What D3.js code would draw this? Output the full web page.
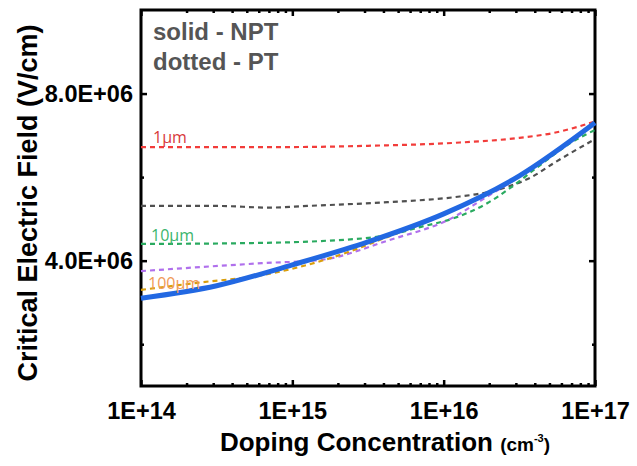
<!DOCTYPE html>
<html>
<head>
<meta charset="utf-8">
<script src="https://cdn.jsdelivr.net/npm/d3@7"></script>
<style>
  body { margin: 0; background: #fff; }
  svg { font-family: "Liberation Sans", Arial, sans-serif; }
</style>
</head>
<body>
<div id="chart"></div>
<script>
// log10 of doping concentration, and critical field (V/cm)
const nptLog = [14, 14.5, 15, 15.5, 16, 16.5, 17];
const nptField = [3.10e6, 3.40e6, 3.90e6, 4.45e6, 5.12e6, 6.03e6, 7.30e6];

const pt1Log = [14, 15, 15.5, 16.07, 16.5, 16.73, 17];
const pt1Field = [6.72e6, 6.72e6, 6.75e6, 6.82e6, 6.94e6, 7.06e6, 7.33e6];

const pt5Log = [14, 14.5, 14.85, 15.1, 15.63, 16.07, 16.29, 16.44, 16.58, 16.73, 17];
const pt5Field = [5.31e6, 5.31e6, 5.27e6, 5.31e6, 5.40e6, 5.52e6, 5.64e6, 5.79e6, 6.00e6, 6.34e6, 6.91e6];

const pt10Log = [14, 14.7, 15.19, 15.63, 15.85, 16.07, 16.29, 16.44, 16.62, 16.84, 17];
const pt10Field = [4.40e6, 4.42e6, 4.47e6, 4.61e6, 4.81e6, 5.02e6, 5.38e6, 5.74e6, 6.24e6, 6.82e6, 7.13e6];

const pt30Log = [14, 14.8, 15.19, 15.63, 16.07, 16.25, 16.5, 17];
const pt30Field = [3.75e6, 3.94e6, 4.02e6, 4.48e6, 5.05e6, 5.45e6, 6.01e6, 7.28e6];

const pt100Log = [14, 14.37, 14.81, 15.25, 15.63, 16, 16.5, 17];
const pt100Field = [3.30e6, 3.47e6, 3.66e6, 4.06e6, 4.57e6, 5.10e6, 6.02e6, 7.29e6];

const xTicks = [1e14, 1e15, 1e16, 1e17];
const yTicks = [4e6, 8e6];
const yMinorTicks = [2e6, 6e6];

const width = 637, height = 466;
const plotLeft = 141, plotRight = 595, plotTop = 10, plotBottom = 386;

const svg = d3.select("#chart").append("svg")
    .attr("width", width)
    .attr("height", height);

const x = d3.scaleLog().domain([1e14, 1e17]).range([plotLeft, plotRight]);
const y = d3.scaleLinear().domain([1e6, 1e7]).range([plotBottom, plotTop]);

// minor x ticks 2..9 per decade
const xMinor = [];
for (let e = 14; e < 17; e++) {
    for (let m = 2; m < 10; m++) xMinor.push(m * Math.pow(10, e));
}

// bottom axis
svg.append("g")
    .attr("transform", "translate(0," + plotBottom + ")")
    .call(d3.axisBottom(x).tickValues(xTicks).tickSize(-6).tickFormat(d => "1E+" + Math.round(Math.log10(d))))
    .call(g => g.select(".domain").remove())
    .call(g => g.selectAll("text").attr("y", 33).attr("dy", 0));
svg.append("g")
    .attr("transform", "translate(0," + plotBottom + ")")
    .call(d3.axisBottom(x).tickValues(xMinor).tickSize(-3).tickFormat(""))
    .call(g => g.select(".domain").remove());

// top axis (ticks only)
svg.append("g")
    .attr("transform", "translate(0," + plotTop + ")")
    .call(d3.axisTop(x).tickValues(xTicks).tickSize(-6).tickFormat(""))
    .call(g => g.select(".domain").remove());
svg.append("g")
    .attr("transform", "translate(0," + plotTop + ")")
    .call(d3.axisTop(x).tickValues(xMinor).tickSize(-3).tickFormat(""))
    .call(g => g.select(".domain").remove());

// left axis
svg.append("g")
    .attr("transform", "translate(" + plotLeft + ",0)")
    .call(d3.axisLeft(y).tickValues(yTicks).tickSize(-6).tickFormat(d => (d / 1e6).toFixed(1) + "E+06"))
    .call(g => g.select(".domain").remove())
    .call(g => g.selectAll("text").attr("x", -8));
svg.append("g")
    .attr("transform", "translate(" + plotLeft + ",0)")
    .call(d3.axisLeft(y).tickValues(yMinorTicks).tickSize(-3).tickFormat(""))
    .call(g => g.select(".domain").remove());

// right axis
svg.append("g")
    .attr("transform", "translate(" + plotRight + ",0)")
    .call(d3.axisRight(y).tickValues(yTicks).tickSize(-6).tickFormat(""))
    .call(g => g.select(".domain").remove());
svg.append("g")
    .attr("transform", "translate(" + plotRight + ",0)")
    .call(d3.axisRight(y).tickValues(yMinorTicks).tickSize(-3).tickFormat(""))
    .call(g => g.select(".domain").remove());

svg.selectAll(".tick line").attr("stroke", "#000").attr("stroke-width", 2.5);
svg.selectAll(".tick text")
    .attr("fill", "#000")
    .style("font-size", "23.5px")
    .style("font-weight", "bold");

// frame
svg.append("rect")
    .attr("x", plotLeft)
    .attr("y", plotTop)
    .attr("width", plotRight - plotLeft)
    .attr("height", plotBottom - plotTop)
    .attr("fill", "none")
    .attr("stroke", "#000")
    .attr("stroke-width", 3);

const line = d3.line()
    .x(d => x(Math.pow(10, d[0])))
    .y(d => y(d[1]))
    .curve(d3.curveMonotoneX);

const plotArea = svg.append("g");

function drawSeries(logs, fields, color, dashed, w) {
    const pts = logs.map((l, i) => [l, fields[i]]);
    plotArea.append("path")
        .datum(pts)
        .attr("d", line)
        .attr("fill", "none")
        .attr("stroke", color)
        .attr("stroke-width", w)
        .attr("stroke-dasharray", dashed ? "5,4" : null);
}

drawSeries(pt1Log, pt1Field, "#f23c3a", true, 2.2);
drawSeries(pt5Log, pt5Field, "#505050", true, 2.2);
drawSeries(pt10Log, pt10Field, "#2aaa60", true, 2.2);
drawSeries(pt30Log, pt30Field, "#b070ec", true, 2.2);
drawSeries(pt100Log, pt100Field, "#d99e0c", true, 2.2);
drawSeries(nptLog, nptField, "#2268e2", false, 5);

// curve labels
const labelFont = "'Open Sans', 'Noto Sans', sans-serif";
svg.append("text").attr("x", 153).attr("y", 143).text("1µm")
    .attr("fill", "#d8393b").style("font-family", labelFont).style("font-size", "16px");
svg.append("text").attr("x", 151).attr("y", 241).text("10µm")
    .attr("fill", "#3bb56c").style("font-family", labelFont).style("font-size", "16px");
svg.append("text").attr("x", 148).attr("y", 289).text("100µm")
    .attr("fill", "#f09a58").style("font-family", labelFont).style("font-size", "16px");

// legend note
svg.append("text").attr("x", 153).attr("y", 40).text("solid - NPT")
    .attr("fill", "#555").style("font-size", "24px").style("font-weight", "bold");
svg.append("text").attr("x", 153).attr("y", 70).text("dotted - PT")
    .attr("fill", "#555").style("font-size", "24px").style("font-weight", "bold");

// axis titles
const xTitle = svg.append("text")
    .attr("x", 385)
    .attr("y", 451)
    .attr("text-anchor", "middle")
    .style("font-size", "26px")
    .style("font-weight", "bold");
xTitle.append("tspan").text("Doping Concentration ");
xTitle.append("tspan").text("(cm").style("font-size", "19px");
xTitle.append("tspan").text("-3").style("font-size", "11px").attr("dy", -9);
xTitle.append("tspan").text(")").style("font-size", "19px").attr("dy", 9);

svg.append("text")
    .attr("transform", "translate(37,203) rotate(-90)")
    .attr("text-anchor", "middle")
    .style("font-size", "27px")
    .style("font-weight", "bold")
    .text("Critical Electric Field (V/cm)");
</script>
</body>
</html>
